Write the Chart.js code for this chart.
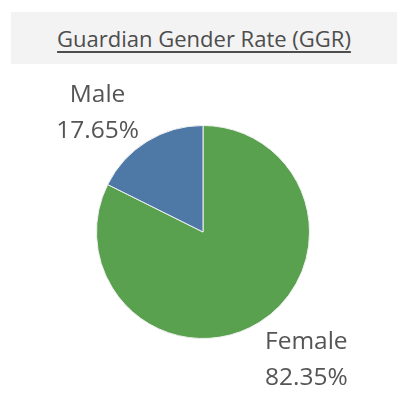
<!DOCTYPE html>
<html>
<head>
<meta charset="utf-8">
<script src="https://cdn.jsdelivr.net/npm/chart.js@4/dist/chart.umd.min.js"></script>
<style>
  html, body { margin: 0; padding: 0; background: #ffffff; }
  #wrap { position: relative; width: 408px; height: 405px; overflow: hidden; }
  #title {
    position: absolute; left: 11px; top: 12px; width: 386px; height: 52px;
    background: #f3f3f3; color: #4d4d4d;
    font-family: "Open Sans", "Noto Sans", sans-serif; font-size: 22px;
    text-align: center; line-height: 52px; text-decoration: underline;
    text-decoration-thickness: 1.5px;
    text-underline-offset: 4px;
  }
  #c { position: absolute; left: 0; top: 0; }
</style>
</head>
<body>
<div id="wrap">
  <div id="title">Guardian Gender Rate (GGR)</div>
  <canvas id="c" width="408" height="405"></canvas>
</div>
<script>
const categories = ["Female", "Male"];
const shares = [82.35, 17.65];
const percentLabels = ["82.35%", "17.65%"];
const colors = ["#59a14f", "#4e79a7"];

const labelPlugin = {
  id: "sliceLabels",
  afterDatasetsDraw(chart) {
    const ctx = chart.ctx;
    const meta = chart.getDatasetMeta(0);
    ctx.save();
    ctx.fillStyle = "#555555";
    ctx.font = "24.5px 'Open Sans', 'Noto Sans', sans-serif";
    ctx.textAlign = "center";
    ctx.textBaseline = "middle";
    meta.data.forEach((arc, i) => {
      const r = arc.outerRadius;
      let x, y;
      if (categories[i] === "Male") {
        x = arc.x - 0.99 * r;
        y = arc.y - 1.12 * r;
      } else {
        x = arc.x + 0.97 * r;
        y = arc.y + 1.2 * r;
      }
      ctx.fillText(categories[i], x, y - 18);
      ctx.fillText(percentLabels[i], x, y + 18);
    });
    ctx.restore();
  }
};

new Chart(document.getElementById("c"), {
  type: "pie",
  data: {
    labels: categories,
    datasets: [{
      data: shares,
      backgroundColor: colors,
      borderColor: "#f0f0f0",
      borderWidth: 1,
      hoverOffset: 0
    }]
  },
  options: {
    responsive: false,
    animation: false,
    events: [],
    layout: { padding: { top: 125, bottom: 66, left: 96, right: 98 } },
    plugins: {
      legend: { display: false },
      tooltip: { enabled: false },
      title: { display: false }
    }
  },
  plugins: [labelPlugin]
});
</script>
</body>
</html>
